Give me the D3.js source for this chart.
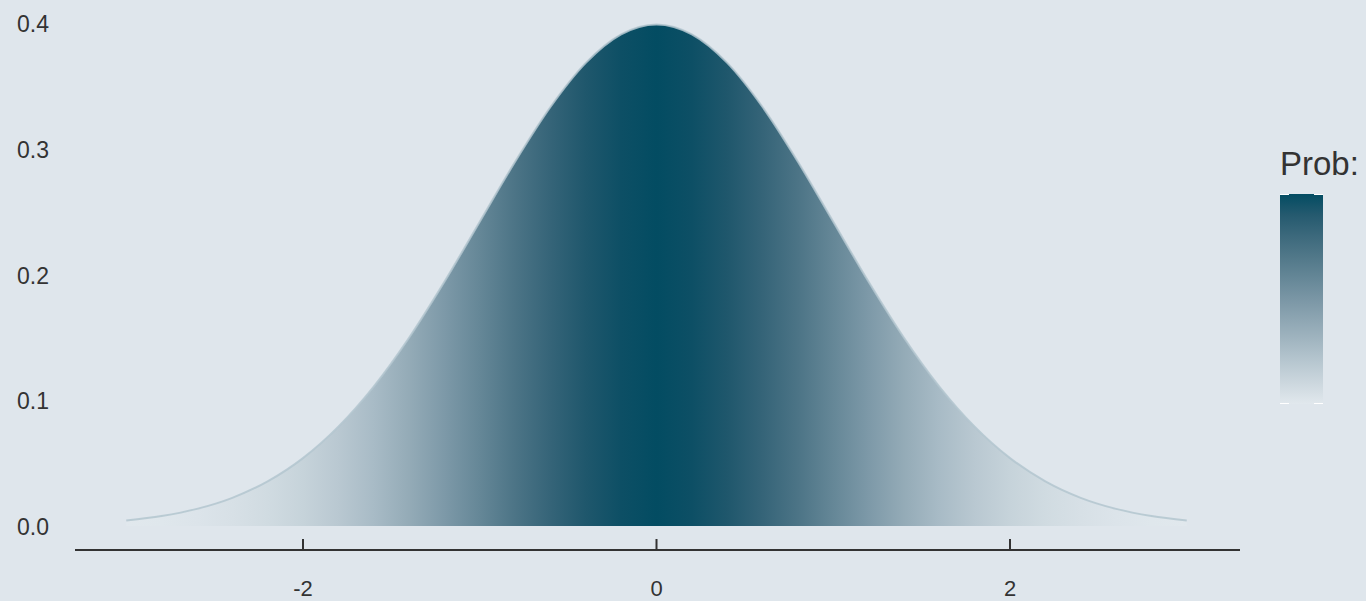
<!DOCTYPE html>
<html>
<head>
<meta charset="utf-8">
<script src="https://cdn.jsdelivr.net/npm/d3@7"></script>
<style>
  html, body { margin: 0; padding: 0; background: #dfe6ec; }
  svg { display: block; font-family: "Liberation Sans", Arial, sans-serif; }
</style>
</head>
<body>
<div id="chart"></div>
<script>
// x positions and density values
const xValues = [-3.0, -2.8, -2.6, -2.4, -2.2, -2.0, -1.8, -1.6, -1.4, -1.2, -1.0,
                 -0.8, -0.6, -0.4, -0.2, 0.0, 0.2, 0.4, 0.6, 0.8, 1.0,
                 1.2, 1.4, 1.6, 1.8, 2.0, 2.2, 2.4, 2.6, 2.8, 3.0];
const probValues = [0.0044, 0.0079, 0.0136, 0.0224, 0.0355, 0.0540, 0.0790, 0.1109, 0.1497, 0.1942, 0.2420,
                    0.2897, 0.3332, 0.3683, 0.3910, 0.3989, 0.3910, 0.3683, 0.3332, 0.2897, 0.2420,
                    0.1942, 0.1497, 0.1109, 0.0790, 0.0540, 0.0355, 0.0224, 0.0136, 0.0079, 0.0044];
const xTicks = [-2, 0, 2];
const yTicks = [0.0, 0.1, 0.2, 0.3, 0.4];
const legendTitle = "Prob:";

const width = 1366, height = 601;
const points = xValues.map((x, i) => ({x: x, p: probValues[i]}));

const svg = d3.select("#chart").append("svg")
    .attr("width", width)
    .attr("height", height);

svg.append("rect").attr("width", width).attr("height", height).attr("fill", "#dfe6ec");

// 比例尺
const x = d3.scaleLinear().domain([-2, 2]).range([303, 1010]);
const y = d3.scaleLinear().domain([0, 0.4]).range([526, 23]);
const color = d3.scaleLinear()
    .domain(d3.extent(probValues))
    .range(["#e1e8ed", "#034c62"])
    .interpolate(d3.interpolateLab);

const defs = svg.append("defs");

// 水平渐变，颜色按密度
const grad = defs.append("linearGradient")
    .attr("id", "fillGrad")
    .attr("gradientUnits", "userSpaceOnUse")
    .attr("x1", x(xValues[0])).attr("x2", x(xValues[xValues.length - 1]))
    .attr("y1", 0).attr("y2", 0);
const x0 = x(xValues[0]), xw = x(xValues[xValues.length - 1]) - x0;
grad.selectAll("stop")
    .data(points)
    .join("stop")
    .attr("offset", d => (x(d.x) - x0) / xw)
    .attr("stop-color", d => color(d.p));

const area = d3.area()
    .x(d => x(d.x))
    .y0(y(0))
    .y1(d => y(d.p))
    .curve(d3.curveMonotoneX);

svg.append("path")
    .datum(points)
    .attr("d", area)
    .attr("fill", "url(#fillGrad)");

const line = d3.line()
    .x(d => x(d.x))
    .y(d => y(d.p))
    .curve(d3.curveMonotoneX);

svg.append("path")
    .datum(points)
    .attr("d", line)
    .attr("fill", "none")
    .attr("stroke", "#b3c6cf")
    .attr("stroke-opacity", 0.85)
    .attr("stroke-width", 2);

// y 轴标签（无轴线）
svg.append("g")
    .selectAll("text")
    .data(yTicks)
    .join("text")
    .attr("x", 49)
    .attr("y", d => y(d) + 1)
    .attr("text-anchor", "end")
    .attr("dominant-baseline", "central")
    .attr("font-size", 23)
    .attr("fill", "#333333")
    .text(d => d.toFixed(1));

// x 轴
const xAxis = svg.append("g");
xAxis.append("line")
    .attr("x1", 75).attr("x2", 1240)
    .attr("y1", 550).attr("y2", 550)
    .attr("stroke", "#333333")
    .attr("stroke-width", 2);
xAxis.selectAll(".tick")
    .data(xTicks)
    .join("line")
    .attr("class", "tick")
    .attr("x1", d => x(d)).attr("x2", d => x(d))
    .attr("y1", 539).attr("y2", 550)
    .attr("stroke", "#333333")
    .attr("stroke-width", 2);
xAxis.selectAll(".lab")
    .data(xTicks)
    .join("text")
    .attr("class", "lab")
    .attr("x", d => x(d))
    .attr("y", 596)
    .attr("text-anchor", "middle")
    .attr("font-size", 22)
    .attr("fill", "#333333")
    .text(d => d);

// 图例
const legTop = 194, legBottom = 404, legX = 1280, legW = 43;
const lgrad = defs.append("linearGradient")
    .attr("id", "legGrad")
    .attr("x1", 0).attr("x2", 0).attr("y1", 1).attr("y2", 0);
lgrad.selectAll("stop")
    .data(d3.range(0, 1.0001, 0.1))
    .join("stop")
    .attr("offset", d => d)
    .attr("stop-color", d => color(color.domain()[0] + d * (color.domain()[1] - color.domain()[0])));

svg.append("text")
    .attr("x", 1280)
    .attr("y", 175)
    .attr("font-size", 33)
    .attr("fill", "#333333")
    .text(legendTitle);

svg.append("rect")
    .attr("x", legX).attr("y", legTop)
    .attr("width", legW).attr("height", legBottom - legTop)
    .attr("fill", "url(#legGrad)");

[legTop + 0.5, legBottom - 0.5].forEach(function (ty) {
    svg.append("line").attr("x1", legX).attr("x2", legX + 9).attr("y1", ty).attr("y2", ty)
        .attr("stroke", "white").attr("stroke-width", 1);
    svg.append("line").attr("x1", legX + legW - 9).attr("x2", legX + legW).attr("y1", ty).attr("y2", ty)
        .attr("stroke", "white").attr("stroke-width", 1);
});
</script>
</body>
</html>
